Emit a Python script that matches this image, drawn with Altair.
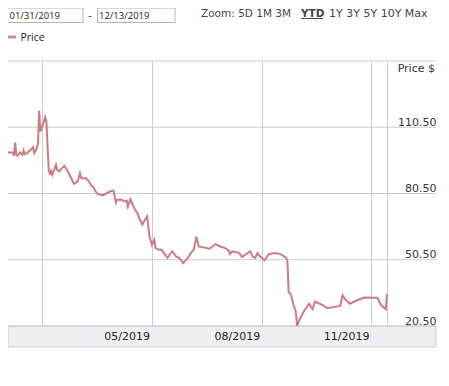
import altair as alt
import pandas as pd

# ---- data ----
dates = [
    "2019-01-31", "2019-02-04", "2019-02-05", "2019-02-06", "2019-02-07", "2019-02-08",
    "2019-02-10", "2019-02-12", "2019-02-13", "2019-02-14", "2019-02-16", "2019-02-19",
    "2019-02-21", "2019-02-22", "2019-02-24", "2019-02-25", "2019-02-26", "2019-02-27",
    "2019-03-01", "2019-03-03", "2019-03-04", "2019-03-06", "2019-03-07", "2019-03-08",
    "2019-03-09", "2019-03-12", "2019-03-13", "2019-03-15", "2019-03-17", "2019-03-19",
    "2019-03-22", "2019-03-24", "2019-03-27", "2019-03-30", "2019-04-01", "2019-04-02",
    "2019-04-05", "2019-04-06", "2019-04-09", "2019-04-11", "2019-04-12", "2019-04-14",
    "2019-04-16", "2019-04-18", "2019-04-20", "2019-04-22", "2019-04-24", "2019-04-27",
    "2019-04-29", "2019-05-01", "2019-05-02", "2019-05-04", "2019-05-06", "2019-05-08",
    "2019-05-10", "2019-05-11", "2019-05-13", "2019-05-15", "2019-05-17", "2019-05-19",
    "2019-05-21", "2019-05-23", "2019-05-25", "2019-05-27", "2019-05-29", "2019-05-31",
    "2019-06-02", "2019-06-03", "2019-06-06", "2019-06-08", "2019-06-10", "2019-06-12",
    "2019-06-13", "2019-06-15", "2019-06-17", "2019-06-20", "2019-06-23", "2019-06-26",
    "2019-06-30", "2019-07-03", "2019-07-05", "2019-07-07", "2019-07-09", "2019-07-13",
    "2019-07-18", "2019-07-23", "2019-07-27", "2019-07-31", "2019-08-03", "2019-08-04",
    "2019-08-06", "2019-08-12", "2019-08-14", "2019-08-18", "2019-08-21", "2019-08-23",
    "2019-08-25", "2019-08-27", "2019-08-29", "2019-08-31", "2019-09-02", "2019-09-05",
    "2019-09-07", "2019-09-10", "2019-09-12", "2019-09-16", "2019-09-20", "2019-09-21",
    "2019-09-22", "2019-09-24", "2019-09-26", "2019-09-28", "2019-09-29", "2019-10-01",
    "2019-10-05", "2019-10-09", "2019-10-12", "2019-10-14", "2019-10-20", "2019-10-24",
    "2019-11-04", "2019-11-06", "2019-11-08", "2019-11-12", "2019-11-20", "2019-11-24",
    "2019-12-03", "2019-12-05", "2019-12-08", "2019-12-12", "2019-12-13",
]
prices = [
    99.1, 99.1, 97.6, 103.6, 98.0, 97.6,
    99.1, 98.0, 100.0, 98.3, 98.8, 100.3,
    101.5, 98.8, 101.0, 103.0, 117.9, 108.6,
    111.6, 115.1, 113.1, 90.8, 89.4, 90.8,
    89.0, 93.5, 91.2, 90.5, 92.0, 93.0,
    90.5, 88.2, 84.9, 85.9, 89.7, 87.5,
    87.3, 87.5, 85.5, 83.7, 83.5, 81.5,
    80.1, 80.0, 79.6, 80.2, 80.9, 81.6,
    81.8, 76.4, 77.7, 77.8, 77.7, 76.9,
    77.3, 74.6, 77.9, 75.4, 73.1, 71.6,
    68.6, 66.4, 68.4, 70.1, 60.9, 57.3,
    59.5, 55.8, 55.0, 55.0, 53.5, 52.1,
    51.3, 53.0, 54.3, 52.0, 51.3, 49.0,
    51.3, 54.0, 55.0, 61.0, 56.5, 56.1,
    55.5, 57.6, 56.5, 55.8, 54.6, 53.1,
    54.3, 53.5, 51.7, 53.2, 54.3, 51.9,
    51.3, 53.5, 52.0, 51.3, 50.2, 52.8,
    53.2, 53.5, 53.5, 52.8, 51.3, 49.7,
    35.9, 34.7, 30.1, 27.0, 20.6, 23.4,
    27.4, 30.6, 28.1, 31.5, 30.1, 28.6,
    29.6, 34.4, 32.7, 30.6, 32.6, 33.4,
    33.3, 33.3, 30.0, 28.1, 34.9,
]
y_ticks = [20.5, 50.5, 80.5, 110.5, 140.5]
y_label_values = [20.5, 50.5, 80.5, 110.5]
x_grid_dates = ["2019-02-28", "2019-05-31", "2019-08-31", "2019-11-30", "2019-12-13"]
x_label_dates = ["2019-05-31", "2019-08-31", "2019-11-30"]
x_labels = ["05/2019", "08/2019", "11/2019"]
range_start = "01/31/2019"
range_end = "12/13/2019"

W, H = 379, 265
GRID = "#cccccc"
LINE = "#cc7a83"
FONT = "DejaVu Sans"
UI_FONT = "Open Sans"

df = pd.DataFrame({"date": dates, "price": prices})
ticks_df = pd.DataFrame({"price": y_ticks})
xl_df = pd.DataFrame({"date": x_label_dates, "label": x_labels})
one = pd.DataFrame({"k": [0]})

x_dom = [alt.DateTime(year=2019, month=1, date=31, utc=True),
         alt.DateTime(year=2019, month=12, date=13, utc=True)]
x_scale = alt.Scale(type="utc", domain=x_dom)
y_scale = alt.Scale(domain=[20.5, 140.5], nice=False, zero=False)

grid_vals = [alt.DateTime(year=int(d[:4]), month=int(d[5:7]), date=int(d[8:]), utc=True)
             for d in x_grid_dates]

y_axis = alt.Axis(orient="right", values=y_label_values, grid=False, ticks=False,
                  domain=False, labelAlign="right", labelBaseline="alphabetic",
                  labelPadding=49, labelOffset=-2, labelFont=FONT, labelFontSize=11,
                  labelColor="#333333", title=None,
                  labelExpr="format(datum.value, '.2f')")
x_axis = alt.Axis(values=grid_vals, grid=True, gridColor=GRID, gridOpacity=1,
                  labels=False, ticks=False, domain=False, title=None)

# grey band under the plot
band = alt.Chart(one).mark_rect(fill="#efeff3", stroke=GRID, strokeWidth=1).encode(
    x=alt.value(0), x2=alt.value(W + 49), y=alt.value(H), y2=alt.value(H + 21)
)

# horizontal gridlines extending into the label area
hrules = alt.Chart(ticks_df).mark_rule(color=GRID, strokeWidth=1).encode(
    y=alt.Y("price:Q", scale=y_scale, axis=y_axis),
    x=alt.value(0), x2=alt.value(W + 49),
)

line = alt.Chart(df).mark_line(color=LINE, strokeWidth=2).encode(
    x=alt.X("date:T", scale=x_scale, axis=x_axis),
    y=alt.Y("price:Q", scale=y_scale, axis=y_axis),
)

xlabels = alt.Chart(xl_df).mark_text(align="right", baseline="middle", dx=-2,
                                     font=FONT, fontSize=11, color="#222222").encode(
    x=alt.X("date:T", scale=x_scale, axis=x_axis), y=alt.value(H + 11), text="label:N"
)

def txt(s, x, y, **kw):
    base = dict(align="left", baseline="alphabetic", font=FONT, fontSize=11, color="#333333")
    base.update(kw)
    return alt.Chart(one).mark_text(text=s, **base).encode(x=alt.value(x), y=alt.value(y))

def box(x0, x1, y0, y1):
    return alt.Chart(one).mark_rect(fill="white", stroke="#b4b4b4", strokeWidth=1).encode(
        x=alt.value(x0), x2=alt.value(x1), y=alt.value(y0), y2=alt.value(y1)
    )

ui = [
    box(-0.5, 75, -53, -38.5),
    txt(range_start, 1.5, -41.8, font=UI_FONT, fontSize=9.5, color="#222222"),
    txt("-", 82, -42, font=UI_FONT, fontSize=11, color="#333333", align="center"),
    box(89.5, 167, -53, -38.5),
    txt(range_end, 91, -41.8, font=UI_FONT, fontSize=9.5, color="#222222"),
    txt("Zoom: 5D 1M 3M", 193, -44, fontSize=10.5, color="#444444"),
    txt("YTD", 293, -44, fontSize=10.5, color="#444444", fontWeight="bold"),
    alt.Chart(one).mark_rule(color="#444444", strokeWidth=1).encode(
        x=alt.value(293), x2=alt.value(315), y=alt.value(-42.5)),
    txt("1Y 3Y 5Y 10Y Max", 321, -44, fontSize=11, color="#444444"),
    alt.Chart(one).mark_rule(color="#c98e99", strokeWidth=3).encode(
        x=alt.value(-1), x2=alt.value(8), y=alt.value(-24)),
    txt("Price", 12.5, -23.5, font=UI_FONT, fontSize=10.5, color="#222222", baseline="middle"),
    txt("Price $", W + 48, 10.5, align="right", color="#333333"),
]

chart = alt.layer(band, hrules, line, xlabels, *ui).properties(
    width=W, height=H,
    autosize=alt.AutoSizeParams(type="none"),
    padding={"left": 0, "top": 53, "right": 54, "bottom": 30},
).configure_view(stroke=None)

chart.save("out.html", embed_options={"renderer": "svg", "actions": False})
